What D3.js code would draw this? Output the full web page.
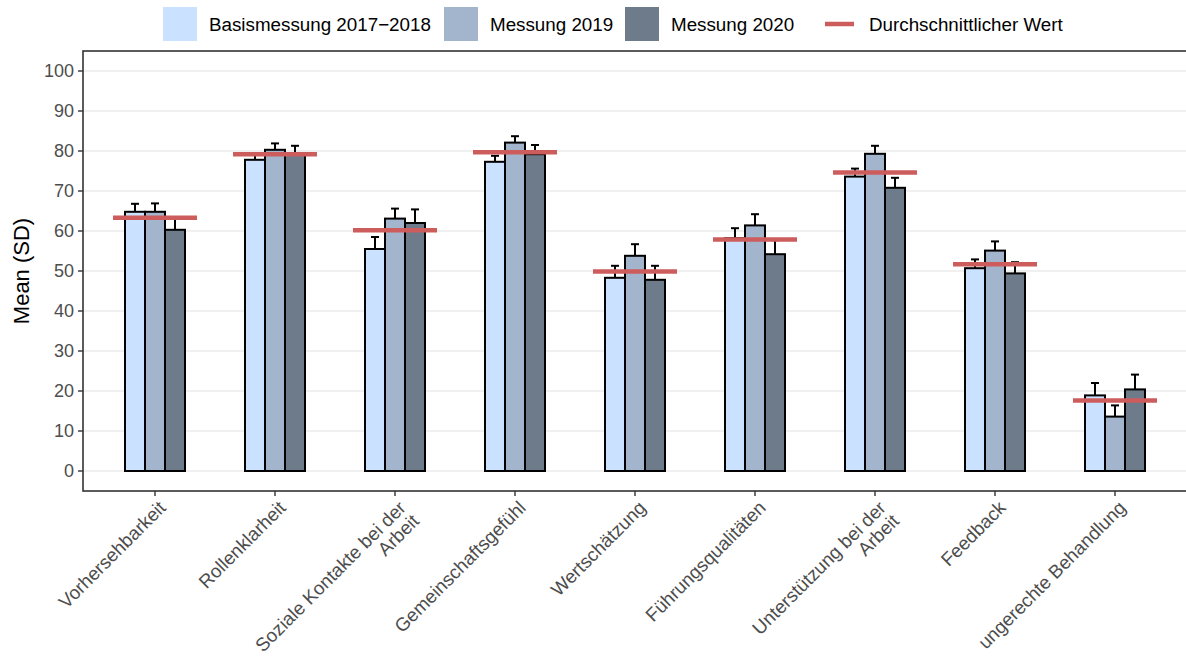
<!DOCTYPE html>
<html>
<head>
<meta charset="utf-8">
<script src="https://cdn.jsdelivr.net/npm/d3@7"></script>
<style>
  body { margin: 0; background: #fff; }
  text { font-family: "Liberation Sans", Arial, sans-serif; }
</style>
</head>
<body>
<div id="chart"></div>
<script>
// Data
const categories = [
  "Vorhersehbarkeit", "Rollenklarheit", "Soziale Kontakte bei der\nArbeit",
  "Gemeinschaftsgefühl", "Wertschätzung", "Führungsqualitäten",
  "Unterstützung bei der\nArbeit", "Feedback", "ungerechte Behandlung"
];
const seriesNames = ["Basismessung 2017\u22122018", "Messung 2019", "Messung 2020"];
const meanBasis = [64.8, 77.8, 55.5, 77.3, 48.3, 58.2, 73.6, 50.7, 18.9];
const mean2019  = [64.8, 80.3, 63.1, 82.1, 53.8, 61.4, 79.3, 55.1, 13.6];
const mean2020  = [60.3, 79.0, 62.0, 79.2, 47.8, 54.2, 70.8, 49.4, 20.4];
const sdBasis   = [2.0, 1.4, 3.0, 1.5, 3.0, 2.5, 2.0, 2.2, 3.1];
const sd2019    = [2.1, 1.6, 2.5, 1.6, 2.9, 2.8, 2.0, 2.3, 2.8];
const sd2020    = [2.9, 2.3, 3.4, 2.3, 3.5, 3.5, 2.5, 2.8, 3.7];
const overallMean = [63.3, 79.2, 60.2, 79.7, 49.9, 57.9, 74.6, 51.7, 17.6];
const yTicks = [0, 10, 20, 30, 40, 50, 60, 70, 80, 90, 100];
const legendLineLabel = "Durchschnittlicher Wert";

const means = [meanBasis, mean2019, mean2020];
const sds = [sdBasis, sd2019, sd2020];
const colors = ["#CAE1FF", "#A2B5CD", "#6E7B8B"];
const lineColor = "#CD5C5C";

const W = 1186, H = 657;
const margin = { top: 51, right: -1, bottom: 166, left: 83 };
const innerW = W - margin.left - margin.right;
const innerH = H - margin.top - margin.bottom;

const svg = d3.select("#chart").append("svg")
  .attr("width", W)
  .attr("height", H);

const g = svg.append("g")
  .attr("transform", `translate(${margin.left},${margin.top})`);

// discrete x scale with ggplot-style expansion (0.6 of a step each side)
const x = d3.scalePoint()
  .domain(categories)
  .range([0, innerW])
  .padding(0.6);
const step = x.step();

const y = d3.scaleLinear()
  .domain([-5, 105])
  .range([innerH, 0]);

const xSub = d3.scaleBand()
  .domain(d3.range(3))
  .range([-step * 0.25, step * 0.25]);

// Grid
g.append("g")
  .selectAll("line")
  .data(yTicks)
  .join("line")
  .attr("x1", 0).attr("x2", innerW)
  .attr("y1", d => y(d)).attr("y2", d => y(d))
  .attr("stroke", "#EBEBEB")
  .attr("stroke-width", 1.6);

const rows = [];
categories.forEach((c, i) => {
  for (let s = 0; s < 3; s++) {
    rows.push({ cat: c, s, mean: means[s][i], sd: sds[s][i] });
  }
});

// Error bars (upper half only, the rest sits behind the bar)
const eb = g.append("g");
rows.forEach(d => {
  const cx = x(d.cat) + xSub(d.s) + xSub.bandwidth() / 2;
  eb.append("line")
    .attr("x1", cx).attr("x2", cx)
    .attr("y1", y(d.mean)).attr("y2", y(d.mean + d.sd))
    .attr("stroke", "#000").attr("stroke-width", 2);
  eb.append("line")
    .attr("x1", cx - 4).attr("x2", cx + 4)
    .attr("y1", y(d.mean + d.sd)).attr("y2", y(d.mean + d.sd))
    .attr("stroke", "#000").attr("stroke-width", 2);
});

// Bars
g.append("g")
  .selectAll("rect")
  .data(rows)
  .join("rect")
  .attr("x", d => x(d.cat) + xSub(d.s))
  .attr("width", xSub.bandwidth())
  .attr("y", d => y(d.mean))
  .attr("height", d => y(0) - y(d.mean))
  .attr("fill", d => colors[d.s])
  .attr("stroke", "#000")
  .attr("stroke-width", 2);

// Average lines
g.append("g")
  .selectAll("line")
  .data(categories)
  .join("line")
  .attr("x1", d => x(d) - step * 0.35)
  .attr("x2", d => x(d) + step * 0.35)
  .attr("y1", (d, i) => y(overallMean[i]))
  .attr("y2", (d, i) => y(overallMean[i]))
  .attr("stroke", lineColor)
  .attr("stroke-width", 4.5);

// Panel border
g.append("rect")
  .attr("x", 0).attr("y", 0)
  .attr("width", innerW).attr("height", innerH)
  .attr("fill", "none")
  .attr("stroke", "#333333")
  .attr("stroke-width", 1.6);

// Y axis
const yAxis = g.append("g");
yTicks.forEach(t => {
  yAxis.append("line")
    .attr("x1", -5).attr("x2", 0)
    .attr("y1", y(t)).attr("y2", y(t))
    .attr("stroke", "#333333").attr("stroke-width", 1.4);
  yAxis.append("text")
    .attr("x", -9).attr("y", y(t))
    .attr("dy", "0.36em")
    .attr("text-anchor", "end")
    .attr("fill", "#4D4D4D")
    .style("font-size", "18px")
    .text(t);
});

// X axis
const xAxis = g.append("g").attr("transform", `translate(0,${innerH})`);
categories.forEach(c => {
  const cx = x(c);
  xAxis.append("line")
    .attr("x1", cx).attr("x2", cx)
    .attr("y1", 0).attr("y2", 5)
    .attr("stroke", "#333333").attr("stroke-width", 1.4);
  const t = xAxis.append("text")
    .attr("transform", `translate(${cx + 2},${8}) rotate(-45)`)
    .attr("text-anchor", "end")
    .attr("fill", "#4D4D4D")
    .style("font-size", "18.8px");
  c.split("\n").forEach((line, k) => {
    t.append("tspan")
      .attr("x", 0)
      .attr("dy", k === 0 ? "0.75em" : "1.0em")
      .text(line);
  });
});

// Y title
svg.append("text")
  .attr("transform", `translate(29,${margin.top + innerH / 2}) rotate(-90)`)
  .attr("text-anchor", "middle")
  .attr("fill", "#000")
  .style("font-size", "22px")
  .text("Mean (SD)");

// Legend
const legend = svg.append("g");
const legendX = [163, 444, 625];
seriesNames.forEach((name, i) => {
  legend.append("rect")
    .attr("x", legendX[i]).attr("y", 7)
    .attr("width", 34).attr("height", 34)
    .attr("fill", colors[i]);
  legend.append("text")
    .attr("x", legendX[i] + 46).attr("y", 24)
    .attr("dy", "0.36em")
    .attr("fill", "#000")
    .style("font-size", "18.8px")
    .text(name);
});
legend.append("line")
  .attr("x1", 825).attr("x2", 854)
  .attr("y1", 24).attr("y2", 24)
  .attr("stroke", lineColor)
  .attr("stroke-width", 4.5);
legend.append("text")
  .attr("x", 869).attr("y", 24)
  .attr("dy", "0.36em")
  .attr("fill", "#000")
  .style("font-size", "18.8px")
  .text(legendLineLabel);
</script>
</body>
</html>
